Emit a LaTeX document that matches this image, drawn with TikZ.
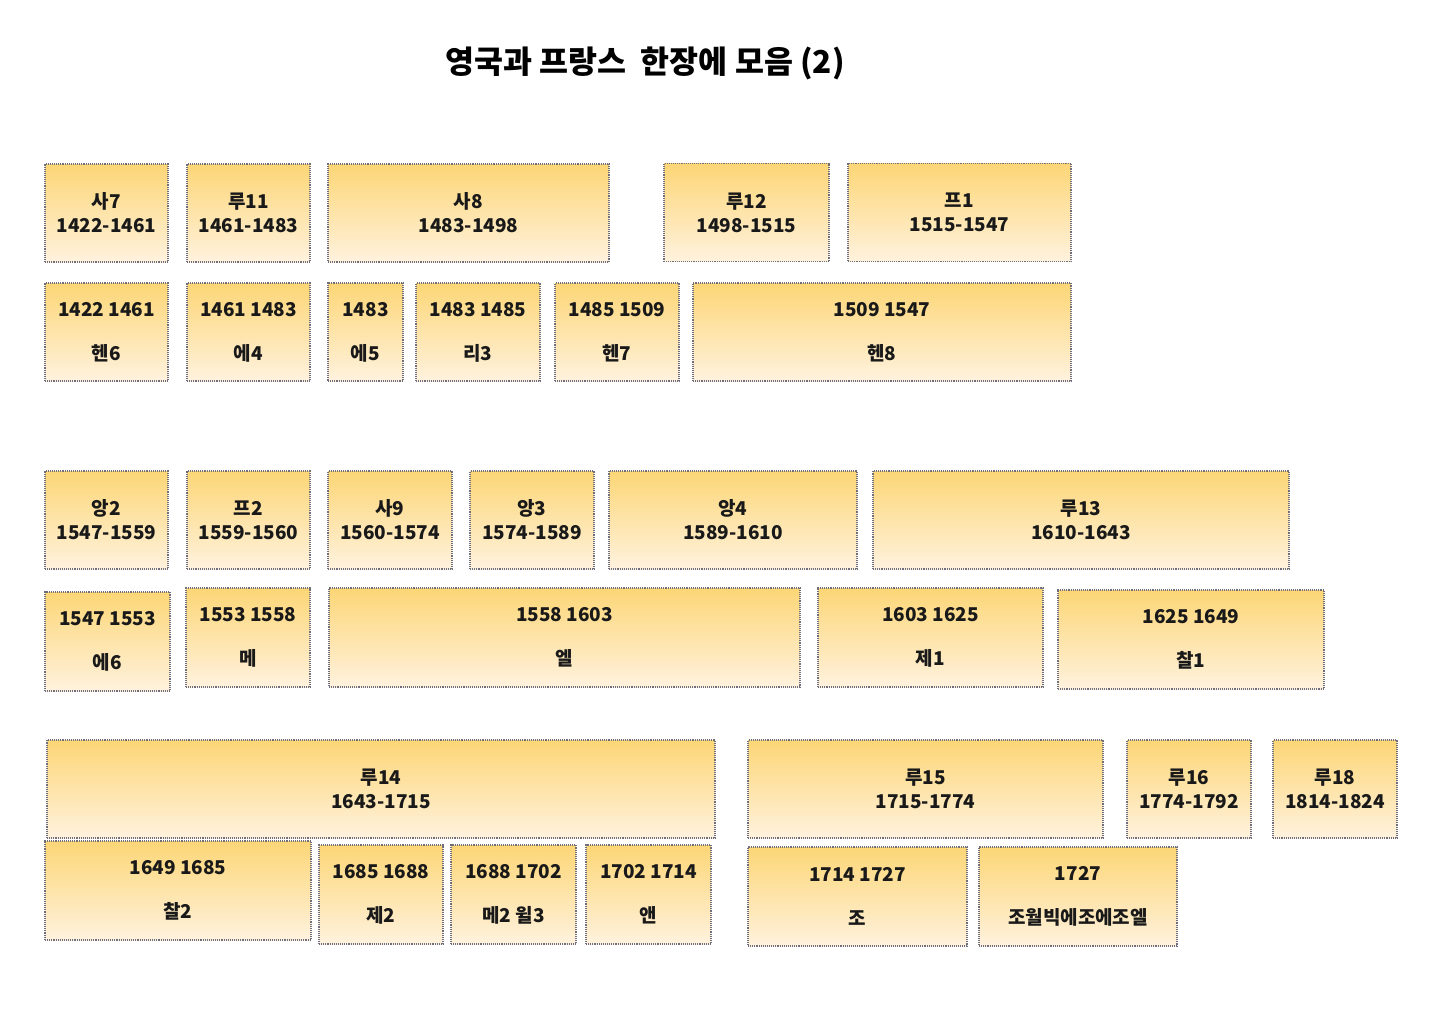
\documentclass[tikz,border=0pt]{standalone}
\usepackage{fontspec}
\setmainfont{Noto Sans CJK KR}
\definecolor{haut}{RGB}{252,214,118}
\definecolor{bas}{RGB}{255,242,222}
\definecolor{bord}{RGB}{110,110,125}
\tikzset{
  regne/.style={draw=bord, densely dotted, line width=1.1pt, top color=haut, bottom color=bas,
    minimum height=98pt, inner sep=0pt, align=center, text=black!90,
    font=\fontsize{19}{24}\selectfont\bfseries},
  paire/.style={regne, font=\fontsize{19}{44}\selectfont\bfseries}
}
\begin{document}
\begin{tikzpicture}[x=1pt, y=-1pt]
\useasboundingbox (0,0) rectangle (1440,1018);
% Titre
\node[font=\fontsize{31.5}{36}\selectfont\bfseries] (titre) at (645,63) {영국과 프랑스 \ 한장에 모음 (2)};
% France 1422-1547
\node[regne, minimum width=123pt] (sa7) at (106.5,213) {사7\\1422-1461};
\node[regne, minimum width=123pt] (ru11) at (248.5,213) {루11\\1461-1483};
\node[regne, minimum width=281pt] (sa8) at (468.5,213) {사8\\1483-1498};
\node[regne, minimum width=165pt] (ru12) at (746.5,212.5) {루12\\1498-1515};
\node[regne, minimum width=223pt] (pe1) at (959.5,212.5) {프1\\1515-1547};
% Angleterre 1422-1547
\node[paire, minimum width=123pt] (hen6) at (106.5,332) {1422 1461\\헨6};
\node[paire, minimum width=123pt] (ed4) at (248.5,332) {1461 1483\\에4};
\node[paire, minimum width=75pt] (ed5) at (365.5,332) {1483\\에5};
\node[paire, minimum width=124pt] (ri3) at (478,332) {1483 1485\\리3};
\node[paire, minimum width=124pt] (hen7) at (617,332) {1485 1509\\헨7};
\node[paire, minimum width=378pt] (hen8) at (882,332) {1509 1547\\헨8};
% France 1547-1643
\node[regne, minimum width=123pt] (ang2) at (106.5,520) {앙2\\1547-1559};
\node[regne, minimum width=123pt] (pe2) at (248.5,520) {프2\\1559-1560};
\node[regne, minimum width=124pt] (sa9) at (390,520) {사9\\1560-1574};
\node[regne, minimum width=124pt] (ang3) at (532,520) {앙3\\1574-1589};
\node[regne, minimum width=248pt] (ang4) at (733,520) {앙4\\1589-1610};
\node[regne, minimum width=416pt] (ru13) at (1081,520) {루13\\1610-1643};
% Angleterre 1547-1649
\node[paire, minimum width=125pt, minimum height=99pt] (ed6) at (107.5,641.5) {1547 1553\\에6};
\node[paire, minimum width=124pt, minimum height=99pt] (me) at (248,637.5) {1553 1558\\메};
\node[paire, minimum width=471pt, minimum height=99pt] (el) at (564.5,637.5) {1558 1603\\엘};
\node[paire, minimum width=225pt, minimum height=99pt] (je1) at (930.5,637.5) {1603 1625\\제1};
\node[paire, minimum width=266pt, minimum height=99pt] (cha1) at (1191,639.5) {1625 1649\\찰1};
% France 1643-1824
\node[regne, minimum width=668pt] (ru14) at (381,789) {루14\\1643-1715};
\node[regne, minimum width=355pt] (ru15) at (925.5,789) {루15\\1715-1774};
\node[regne, minimum width=124pt] (ru16) at (1189,789) {루16\\1774-1792};
\node[regne, minimum width=124pt] (ru18) at (1335,789) {루18\\1814-1824};
% Angleterre 1649-1727
\node[paire, minimum width=266pt, minimum height=99pt] (cha2) at (178,890.5) {1649 1685\\찰2};
\node[paire, minimum width=124pt, minimum height=99pt] (je2) at (381,894.5) {1685 1688\\제2};
\node[paire, minimum width=125pt, minimum height=99pt] (me2) at (513.5,894.5) {1688 1702\\메2 윌3};
\node[paire, minimum width=125pt, minimum height=99pt] (an) at (648.5,894.5) {1702 1714\\앤};
\node[paire, minimum width=219pt, minimum height=99pt] (jo1) at (857.5,896.5) {1714 1727\\조};
\node[paire, minimum width=198pt, minimum height=99pt] (jo2) at (1078,896.5) {1727\\조월빅에조에조엘};
\end{tikzpicture}
\end{document}
